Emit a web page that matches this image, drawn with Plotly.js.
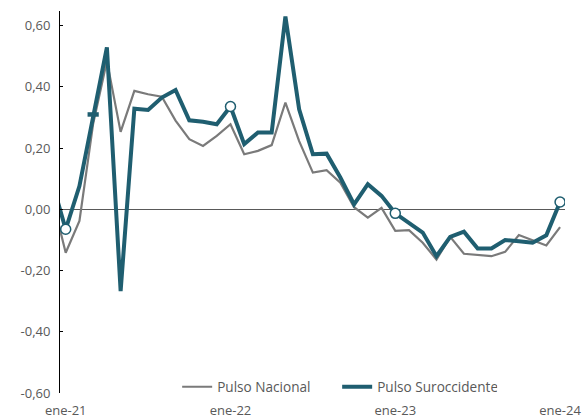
<!DOCTYPE html>
<html>
<head>
<meta charset="utf-8">
<script src="https://cdn.plot.ly/plotly-3.0.1.min.js"></script>
<style>html,body{margin:0;padding:0;background:#fff;}#chart{width:583px;height:418px;}</style>
</head>
<body>
<div id="chart"></div>
<script>
const months = ['dic-20','ene-21','feb-21','mar-21','abr-21','may-21','jun-21','jul-21','ago-21','sep-21','oct-21','nov-21','dic-21',
  'ene-22','feb-22','mar-22','abr-22','may-22','jun-22','jul-22','ago-22','sep-22','oct-22','nov-22','dic-22',
  'ene-23','feb-23','mar-23','abr-23','may-23','jun-23','jul-23','ago-23','sep-23','oct-23','nov-23','dic-23','ene-24'];
const pulsoNacional = [0.04,-0.142,-0.038,0.28,0.485,0.253,0.387,0.376,0.368,0.29,0.229,0.207,0.24,
  0.278,0.18,0.191,0.21,0.349,0.223,0.12,0.128,0.087,0.007,-0.027,0.005,
  -0.07,-0.068,-0.109,-0.164,-0.09,-0.145,-0.149,-0.153,-0.139,-0.084,-0.101,-0.118,-0.058];
const pulsoSuroccidente = [0.09,-0.065,0.076,0.31,0.529,-0.267,0.329,0.325,0.365,0.39,0.291,0.286,0.278,
  0.336,0.213,0.251,0.251,0.63,0.327,0.18,0.182,0.104,0.016,0.082,0.044,
  -0.013,-0.044,-0.076,-0.153,-0.09,-0.073,-0.128,-0.128,-0.1,-0.104,-0.109,-0.085,0.024];
const tickLabels = ['ene-21','ene-22','ene-23','ene-24'];
const circleMonths = ['ene-21','ene-22','ene-23','ene-24'];
const dashMonths = ['mar-21'];
const seriesNames = ['Pulso Nacional','Pulso Suroccidente'];

const blue = '#1f5e70';
const grey = '#7a7a7a';
const pick = (list) => ({
  x: list,
  y: list.map(m => pulsoSuroccidente[months.indexOf(m)])
});
const circ = pick(circleMonths);
const dash = pick(dashMonths);

const data = [
  {x: months, y: pulsoNacional, type: 'scatter', mode: 'lines', name: seriesNames[0],
   line: {color: grey, width: 2.2}},
  {x: months, y: pulsoSuroccidente, type: 'scatter', mode: 'lines', name: seriesNames[1],
   line: {color: blue, width: 4}},
  {x: dash.x, y: dash.y, type: 'scatter', mode: 'markers', showlegend: false, hoverinfo: 'skip',
   marker: {symbol: 'line-ew', size: 8, line: {color: blue, width: 4.5}}},
  {x: circ.x, y: circ.y, type: 'scatter', mode: 'markers', showlegend: false, hoverinfo: 'skip',
   marker: {symbol: 'circle', size: 10, color: '#ffffff', line: {color: blue, width: 1.5}}}
];

const font = {family: '"Open Sans", "Noto Sans", sans-serif', size: 13, color: '#595959'};
const legendFont = {family: '"Open Sans", "Noto Sans", sans-serif', size: 13.6, color: '#595959'};
const layout = {
  width: 583, height: 418,
  margin: {l: 60, r: 18, t: 11, b: 25},
  paper_bgcolor: '#fff', plot_bgcolor: '#fff',
  font: font,
  showlegend: true,
  legend: {orientation: 'h', x: 0.232, xanchor: 'left', y: 0.016, yanchor: 'middle',
           entrywidth: 115, entrywidthmode: 'pixels',
           font: legendFont, bgcolor: 'rgba(0,0,0,0)', traceorder: 'normal'},
  xaxis: {type: 'category', range: [0.585, 37.36], tickmode: 'array', tickvals: tickLabels, ticktext: tickLabels,
          showgrid: false, zeroline: false, showline: false, ticks: '', tickfont: font,
          ticklabelstandoff: 8, fixedrange: true},
  yaxis: {range: [-0.6, 0.648], tickmode: 'array', tickvals: [-0.6,-0.4,-0.2,0,0.2,0.4,0.6],
          ticktext: ['-0,60','-0,40','-0,20','0,00','0,20','0,40','0,60'],
          showgrid: false, zeroline: true, zerolinecolor: '#595959', zerolinewidth: 1.5,
          showline: true, linecolor: '#000', linewidth: 1, ticks: 'inside', ticklen: 3, tickcolor: '#000',
          tickfont: font, ticklabelstandoff: 6, fixedrange: true}
};
Plotly.newPlot('chart', data, layout, {displayModeBar: false, staticPlot: true});
</script>
</body>
</html>
